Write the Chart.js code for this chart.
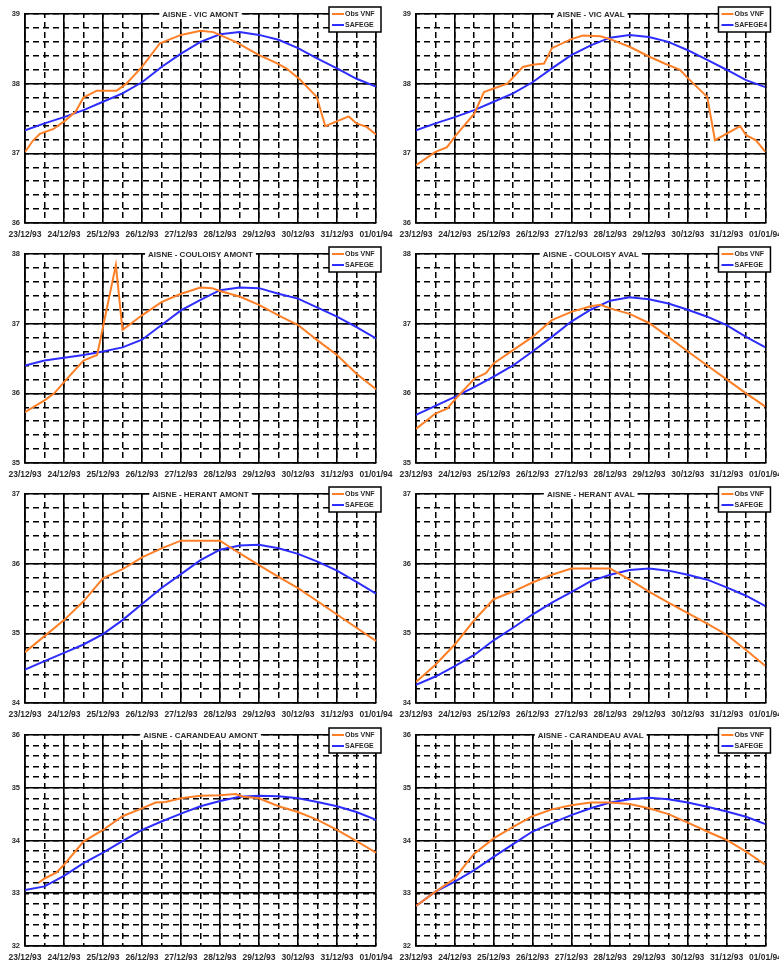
<!DOCTYPE html>
<html>
<head>
<meta charset="utf-8">
<script src="https://cdn.jsdelivr.net/npm/chart.js@4"></script>
<style>
  body { margin: 0; background: #fff; width: 779px; height: 962px; overflow: hidden; position: relative; }
  canvas { position: absolute; }
</style>
</head>
<body>
<canvas id="c1"></canvas>
<canvas id="c2"></canvas>
<canvas id="c3"></canvas>
<canvas id="c4"></canvas>
<canvas id="c5"></canvas>
<canvas id="c6"></canvas>
<canvas id="c7"></canvas>
<canvas id="c8"></canvas>
<script>
// tick labels (one per day, 0 = 23/12/93)
var days = ['23/12/93', '24/12/93', '25/12/93', '26/12/93', '27/12/93', '28/12/93', '29/12/93', '30/12/93', '31/12/93', '01/01/94'];

// common time axis in days for the model series
var t = [0, 0.5, 1, 1.5, 2, 2.5, 3, 3.5, 4, 4.5, 5, 5.5, 6, 6.5, 7, 7.5, 8, 8.5, 9];

// AISNE - VIC AMONT
var tObsVicAmont = [0, 0.2, 0.38, 0.73, 1.03, 1.3, 1.5, 1.84, 2.35, 2.6, 3.0, 3.46, 4.0, 4.5, 4.83, 5.4, 6.0, 6.4, 6.7, 7.05, 7.48, 7.7, 8.3, 8.5, 8.76, 9.0];
var obsVicAmont = [37.02, 37.18, 37.28, 37.35, 37.47, 37.6, 37.8, 37.9, 37.9, 38.0, 38.24, 38.58, 38.7, 38.76, 38.74, 38.6, 38.41, 38.31, 38.22, 38.06, 37.81, 37.39, 37.53, 37.43, 37.38, 37.27];
var safVicAmont = [37.33, 37.43, 37.52, 37.62, 37.74, 37.86, 38.02, 38.24, 38.43, 38.6, 38.71, 38.74, 38.7, 38.63, 38.51, 38.36, 38.22, 38.07, 37.96];

// AISNE - VIC AVAL
var tObsVicAval = [0, 0.5, 0.8, 1.0, 1.5, 1.75, 2.0, 2.35, 2.75, 3.0, 3.3, 3.5, 4.0, 4.3, 4.75, 5.0, 5.5, 6.0, 6.4, 6.8, 7.0, 7.5, 7.7, 8.35, 8.5, 8.75, 9.0];
var obsVicAval = [36.83, 37.02, 37.09, 37.24, 37.57, 37.88, 37.93, 38.0, 38.24, 38.27, 38.29, 38.51, 38.64, 38.69, 38.68, 38.64, 38.53, 38.39, 38.29, 38.2, 38.08, 37.81, 37.19, 37.39, 37.26, 37.19, 37.02];
var safVicAval = [37.33, 37.43, 37.52, 37.62, 37.74, 37.86, 38.02, 38.22, 38.41, 38.55, 38.66, 38.7, 38.67, 38.6, 38.48, 38.34, 38.2, 38.05, 37.95];

// AISNE - COULOISY AMONT
var tObsCouAmont = [0, 0.5, 0.75, 1.0, 1.5, 1.85, 2.33, 2.5, 3.0, 3.5, 4.0, 4.5, 4.8, 5.0, 5.5, 6.0, 6.5, 7.0, 7.5, 8.0, 8.5, 9.0];
var obsCouAmont = [35.73, 35.9, 36.0, 36.16, 36.47, 36.55, 37.84, 36.91, 37.12, 37.31, 37.43, 37.52, 37.51, 37.47, 37.39, 37.27, 37.12, 36.98, 36.76, 36.55, 36.28, 36.06];
var safCouAmont = [36.4, 36.47, 36.51, 36.55, 36.6, 36.66, 36.77, 36.98, 37.19, 37.34, 37.48, 37.52, 37.51, 37.43, 37.36, 37.23, 37.1, 36.95, 36.79];

// AISNE - COULOISY AVAL
var tObsCouAval = [0, 0.5, 0.8, 1.0, 1.5, 1.8, 2.0, 2.5, 3.0, 3.5, 4.0, 4.5, 4.75, 5.0, 5.5, 6.0, 6.5, 7.0, 7.5, 8.0, 8.5, 9.0];
var obsCouAval = [35.49, 35.71, 35.78, 35.91, 36.21, 36.29, 36.43, 36.62, 36.81, 37.05, 37.17, 37.25, 37.27, 37.22, 37.14, 37.01, 36.81, 36.6, 36.4, 36.2, 36.0, 35.81];
var safCouAval = [35.69, 35.82, 35.95, 36.09, 36.24, 36.4, 36.6, 36.81, 37.03, 37.2, 37.33, 37.38, 37.35, 37.29, 37.2, 37.1, 36.98, 36.81, 36.66];

// AISNE - HERANT AMONT
var obsHerAmont = [34.73, 34.96, 35.19, 35.46, 35.79, 35.92, 36.09, 36.22, 36.33, 36.33, 36.33, 36.15, 35.98, 35.81, 35.65, 35.46, 35.27, 35.08, 34.89];
var safHerAmont = [34.48, 34.6, 34.72, 34.84, 34.99, 35.19, 35.42, 35.65, 35.85, 36.05, 36.2, 36.26, 36.27, 36.22, 36.14, 36.03, 35.9, 35.74, 35.57];

// AISNE - HERANT AVAL
var obsHerAval = [34.3, 34.55, 34.84, 35.19, 35.49, 35.6, 35.73, 35.84, 35.93, 35.93, 35.93, 35.77, 35.6, 35.44, 35.29, 35.14, 34.98, 34.76, 34.53];
var safHerAval = [34.26, 34.38, 34.53, 34.69, 34.9, 35.08, 35.27, 35.44, 35.59, 35.75, 35.84, 35.91, 35.93, 35.9, 35.84, 35.77, 35.66, 35.54, 35.39];

// AISNE - CARANDEAU AMONT
var tObsCarAmont = [0.35, 0.5, 0.8, 1.0, 1.5, 2.0, 2.5, 3.0, 3.35, 3.6, 4.0, 4.5, 5.0, 5.4, 5.6, 6.0, 6.5, 7.0, 7.5, 8.0, 8.5, 9.0];
var obsCarAmont = [33.2, 33.28, 33.39, 33.54, 33.98, 34.2, 34.46, 34.61, 34.72, 34.73, 34.8, 34.85, 34.86, 34.88, 34.83, 34.8, 34.65, 34.54, 34.39, 34.2, 33.99, 33.77];
var safCarAmont = [33.06, 33.13, 33.33, 33.57, 33.77, 33.99, 34.2, 34.36, 34.51, 34.65, 34.75, 34.83, 34.85, 34.84, 34.8, 34.73, 34.65, 34.54, 34.39];

// AISNE - CARANDEAU AVAL
var tObsCarAval = [0, 0.5, 1.0, 1.3, 1.5, 2.0, 2.5, 3.0, 3.5, 4.0, 4.5, 5.0, 5.5, 6.0, 6.5, 7.0, 7.5, 8.0, 8.5, 9.0];
var obsCarAval = [32.76, 33.03, 33.28, 33.57, 33.75, 34.04, 34.26, 34.46, 34.59, 34.67, 34.72, 34.72, 34.69, 34.61, 34.5, 34.34, 34.17, 34.01, 33.79, 33.54];
var safCarAval = [32.76, 33.03, 33.22, 33.44, 33.69, 33.93, 34.17, 34.33, 34.48, 34.61, 34.72, 34.78, 34.81, 34.78, 34.72, 34.64, 34.55, 34.45, 34.31];

var panels = [
    { id: 'c1', title: 'AISNE - VIC AMONT', min: 36, max: 39, obsT: tObsVicAmont, obs: obsVicAmont, saf: safVicAmont, safLabel: 'SAFEGE' },
    { id: 'c2', title: 'AISNE - VIC AVAL', min: 36, max: 39, obsT: tObsVicAval, obs: obsVicAval, saf: safVicAval, safLabel: 'SAFEGE4' },
    { id: 'c3', title: 'AISNE - COULOISY AMONT', min: 35, max: 38, obsT: tObsCouAmont, obs: obsCouAmont, saf: safCouAmont, safLabel: 'SAFEGE' },
    { id: 'c4', title: 'AISNE - COULOISY AVAL', min: 35, max: 38, obsT: tObsCouAval, obs: obsCouAval, saf: safCouAval, safLabel: 'SAFEGE' },
    { id: 'c5', title: 'AISNE - HERANT AMONT', min: 34, max: 37, obsT: t, obs: obsHerAmont, saf: safHerAmont, safLabel: 'SAFEGE' },
    { id: 'c6', title: 'AISNE - HERANT AVAL', min: 34, max: 37, obsT: t, obs: obsHerAval, saf: safHerAval, safLabel: 'SAFEGE' },
    { id: 'c7', title: 'AISNE - CARANDEAU AMONT', min: 32, max: 36, obsT: tObsCarAmont, obs: obsCarAmont, saf: safCarAmont, safLabel: 'SAFEGE' },
    { id: 'c8', title: 'AISNE - CARANDEAU AVAL', min: 32, max: 36, obsT: tObsCarAval, obs: obsCarAval, saf: safCarAval, safLabel: 'SAFEGE' }
];

// plot box positions on the page
var colLeft = [0, 389];
var colAxisW = [25, 27];
var rowTop = [14, 254, 494, 735];
var rowBottom = [223, 463, 703, 946];
var canvasW = 400;
var xAxisH = 22;

var ORANGE = '#ff7f27';
var BLUE = '#2d2dff';

Chart.defaults.font.family = '"Liberation Sans", Arial, sans-serif';
Chart.defaults.color = '#2a2a2a';

function points(xs, ys) {
    return xs.map(function (x, i) { return { x: x, y: ys[i] }; });
}

// title on the top border + boxed legend in the top right corner
var panelText = {
    id: 'panelText',
    afterDraw: function (chart, args, opts) {
        var ctx = chart.ctx;
        var a = chart.chartArea;
        ctx.save();
        ctx.font = 'bold 8px "Liberation Sans", Arial';
        var w = ctx.measureText(opts.title).width;
        var cx = (a.left + a.right) / 2;
        ctx.fillStyle = '#fff';
        ctx.fillRect(cx - w / 2 - 3, a.top - 5, w + 6, 10);
        ctx.fillStyle = '#2a2a2a';
        ctx.textAlign = 'center';
        ctx.textBaseline = 'middle';
        ctx.fillText(opts.title, cx, a.top + 0.5);

        var bx = a.right - 47, by = a.top - 7, bw = 52, bh = 25;
        ctx.fillStyle = '#fff';
        ctx.fillRect(bx, by, bw, bh);
        ctx.strokeStyle = '#000';
        ctx.lineWidth = 1.5;
        ctx.strokeRect(bx, by, bw, bh);
        ctx.font = 'bold 7px "Liberation Sans", Arial';
        ctx.textAlign = 'left';
        chart.data.datasets.forEach(function (ds, i) {
            var y = by + 7 + i * 11;
            ctx.strokeStyle = ds.borderColor;
            ctx.lineWidth = 2;
            ctx.beginPath();
            ctx.moveTo(bx + 3, y);
            ctx.lineTo(bx + 15, y);
            ctx.stroke();
            ctx.fillStyle = '#2a2a2a';
            ctx.fillText(ds.label, bx + 16, y + 0.5);
        });
        ctx.restore();
    }
};

panels.forEach(function (p, i) {
    var col = i % 2, row = Math.floor(i / 2);
    var canvas = document.getElementById(p.id);
    var h = rowBottom[row] - rowTop[row] + 14 + xAxisH;
    canvas.width = canvasW;
    canvas.height = h;
    canvas.style.left = colLeft[col] + 'px';
    canvas.style.top = (rowTop[row] - 14) + 'px';
    var axisW = colAxisW[col];
    var plotRight = col === 0 ? 376 : 377;

    new Chart(canvas.getContext('2d'), {
        type: 'line',
        data: {
            datasets: [{
                label: 'Obs VNF',
                data: points(p.obsT, p.obs),
                borderColor: ORANGE,
                borderWidth: 2,
                pointRadius: 0,
                tension: 0
            }, {
                label: p.safLabel,
                data: points(t, p.saf),
                borderColor: BLUE,
                borderWidth: 2,
                pointRadius: 0,
                tension: 0
            }]
        },
        options: {
            responsive: false,
            animation: false,
            devicePixelRatio: 1,
            layout: { padding: { top: 14, left: 0, right: canvasW - plotRight, bottom: 0 } },
            plugins: {
                legend: { display: false },
                tooltip: { enabled: false },
                panelText: { title: p.title }
            },
            scales: {
                x2: {
                    type: 'linear', position: 'bottom', min: 0, max: 9,
                    ticks: { display: false, stepSize: 0.5 },
                    grid: { color: '#000', lineWidth: 1.5, drawTicks: false },
                    border: { display: false, dash: [6, 4], dashOffset: 2 },
                    afterFit: function (s) { s.height = 0; }
                },
                x: {
                    type: 'linear', position: 'bottom', min: 0, max: 9,
                    ticks: {
                        stepSize: 1, padding: 7, maxRotation: 0, autoSkip: false,
                        font: { size: 8.5, weight: 'bold' },
                        callback: function (v) { return days[v]; }
                    },
                    grid: { color: '#000', lineWidth: 1.6, drawTicks: false },
                    border: { color: '#000', width: 1.6 },
                    afterFit: function (s) { s.height = xAxisH; }
                },
                y2: {
                    position: 'left', min: p.min, max: p.max,
                    ticks: { display: false, stepSize: 0.2 },
                    grid: { color: '#000', lineWidth: 1.5, drawTicks: false },
                    border: { display: false, dash: [6, 4], dashOffset: 2 },
                    afterFit: function (s) { s.width = 0; }
                },
                y: {
                    position: 'left', min: p.min, max: p.max,
                    ticks: {
                        stepSize: 1, padding: 5,
                        font: { size: 7.5, weight: 'bold' },
                        callback: function (v) { return String(v); }
                    },
                    grid: { color: '#000', lineWidth: 1.6, drawTicks: false },
                    border: { color: '#000', width: 1.6 },
                    afterFit: function (s) { s.width = axisW; }
                }
            }
        },
        plugins: [panelText]
    });
});
</script>
</body>
</html>
